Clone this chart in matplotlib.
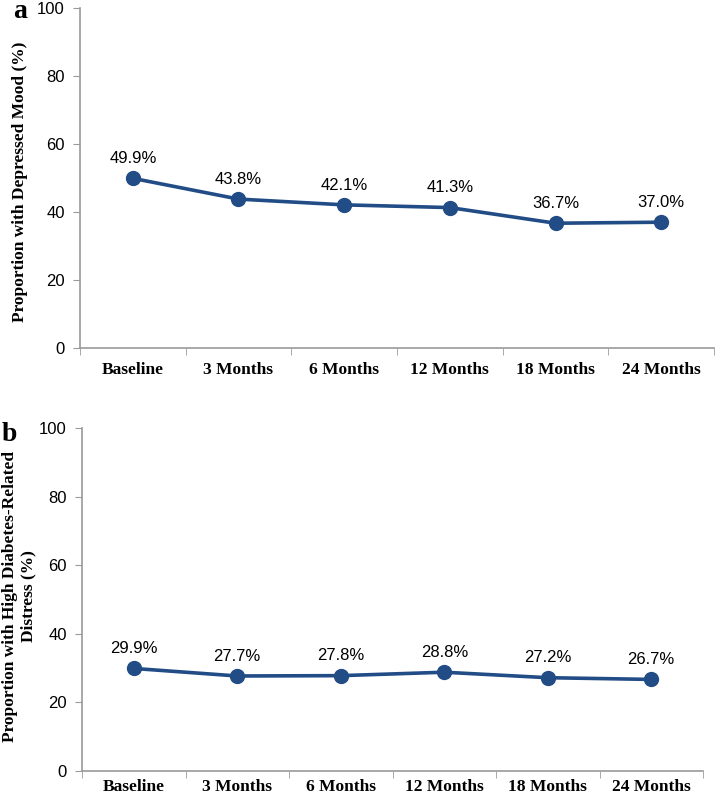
import matplotlib
matplotlib.use("Agg")
import matplotlib.pyplot as plt
import numpy as np

# ── Data ──────────────────────────────────────────────────────
timepoints = ["Baseline", "3 Months", "6 Months", "12 Months", "18 Months", "24 Months"]
depressed_mood = [49.9, 43.8, 42.1, 41.3, 36.7, 37.0]
diabetes_distress = [29.9, 27.7, 27.8, 28.8, 27.2, 26.7]

line_color = "#224c85"
spine_color = "#9a9a9a"
W, H = 717, 799

fig = plt.figure(figsize=(W / 100, H / 100), dpi=100)

# (letter, values, ylabel, axes rect in px [left, bottom_px_from_top, width, height],
#  letter pos px, ylabel center px, x label pad)
panels = [
    ("a", depressed_mood, "Proportion with Depressed Mood (%)",
     (80, 348, 634, 340), (13, 18), (20, 182), 10),
    ("b", diabetes_distress, "Proportion with High Diabetes-Related\nDistress (%)",
     (82, 771, 621, 343), (2, 441), (19, 596), 6),
]

for letter, values, ylabel, (l, b, w, h), (lx, ly), (yx, yy), xpad in panels:
    ax = fig.add_axes([l / W, 1 - b / H, w / W, h / H])
    x = np.arange(len(timepoints))
    ax.plot(x, values, color=line_color, lw=2.6, marker="o", ms=10,
            markerfacecolor=line_color, markeredgecolor=line_color, zorder=3,
            clip_on=False)
    for xi, v in zip(x, values):
        ax.annotate(f"{v:.1f}%", (xi, v), xytext=(0, 11), textcoords="offset points",
                    ha="center", va="baseline", fontsize=12, family="Liberation Sans")

    ax.set_xlim(-0.5, len(timepoints) - 0.5)
    ax.set_ylim(0, 100)
    ax.set_yticks([0, 20, 40, 60, 80, 100])
    ax.set_xticks(x)
    ax.set_xticklabels(timepoints, fontsize=12.5, fontweight="bold", family="Liberation Serif")
    ax.set_xticks(np.arange(len(timepoints) + 1) - 0.5, minor=True)
    ax.tick_params(axis="x", which="major", length=0, pad=xpad)
    ax.tick_params(axis="x", which="minor", length=5, color=spine_color)
    ax.tick_params(axis="y", length=5, color=spine_color, labelsize=12, pad=6)
    for lab in ax.get_yticklabels():
        lab.set_family("Liberation Sans")

    for side in ["top", "right"]:
        ax.spines[side].set_visible(False)
    for side in ["left", "bottom"]:
        ax.spines[side].set_color(spine_color)
        ax.spines[side].set_linewidth(1.2)

    fig.text(yx / W, 1 - yy / H, ylabel, rotation=90, ha="center", va="center",
             multialignment="center", fontsize=12.5, fontweight="bold",
             family="Liberation Serif", linespacing=1.15)
    fig.text(lx / W, 1 - ly / H, letter, fontsize=20, fontweight="bold",
             family="Liberation Serif", ha="left", va="baseline")

fig.savefig("out.png", dpi=100, facecolor="white")
